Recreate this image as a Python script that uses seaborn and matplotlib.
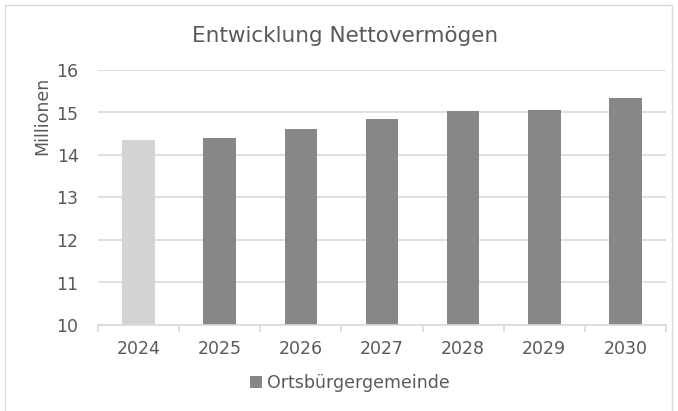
import numpy as np
import pandas as pd
import matplotlib
matplotlib.use("Agg")
import matplotlib.pyplot as plt
import seaborn as sns
from matplotlib.patches import Patch, Rectangle

# data
years = ["2024", "2025", "2026", "2027", "2028", "2029", "2030"]
values = [14.35, 14.39, 14.61, 14.84, 15.04, 15.05, 15.33]
bar_colors = ["#d4d4d4", "#878787", "#878787", "#878787", "#878787", "#878787", "#878787"]
series_name = "Ortsbürgergemeinde"

df = pd.DataFrame({"year": years, "value": values})

sns.set_theme(style="white")
plt.rcParams["font.family"] = ["DejaVu Sans"]
text_col = "#595959"

fig = plt.figure(figsize=(6.78, 4.11), dpi=100)
ax = fig.add_axes([98 / 678, 86 / 411, 568 / 678, 255 / 411])

sns.barplot(data=df, x="year", y="value", hue="year", palette=bar_colors,
            legend=False, width=0.4, ax=ax, edgecolor="none")

ax.set_ylim(10, 16)
ax.set_yticks(np.arange(10, 17, 1))
ax.yaxis.grid(True, color="#d9d9d9", linewidth=1.2)
ax.set_axisbelow(True)
for s in ["top", "right", "left"]:
    ax.spines[s].set_visible(False)
ax.spines["bottom"].set_color("#d9d9d9")
ax.spines["bottom"].set_linewidth(1.2)

ax.set_xlabel("")
ax.set_ylabel("")
ax.tick_params(axis="both", colors=text_col, labelsize=12.5, length=0)
ax.tick_params(axis="y", pad=14)
ax.tick_params(axis="x", pad=11)

# minor ticks between categories
ax.set_xticks(np.arange(-0.5, len(years), 1), minor=True)
ax.tick_params(axis="x", which="minor", bottom=True, length=5,
               color="#d9d9d9", width=1.2)

fig.text(42 / 678, 1 - 116 / 411, "Millionen", rotation=90, ha="center",
         va="center", fontsize=12.5, color=text_col)

fig.text(345 / 678, 1 - 36 / 411, "Entwicklung Nettovermögen", ha="center",
         va="center", fontsize=15.5, color=text_col)

handles = [Patch(facecolor="#878787", edgecolor="none", label=series_name)]
fig.legend(handles=handles, loc="center", bbox_to_anchor=(350 / 678, 1 - 383 / 411),
           frameon=False, fontsize=12.5, labelcolor=text_col, handlelength=0.7,
           handleheight=0.7, handletextpad=0.3)

fig.patches.append(Rectangle((5 / 678, -0.01), 667 / 678, 1 - 5 / 411 + 0.01,
                             transform=fig.transFigure, fill=False,
                             edgecolor="#d9d9d9", linewidth=1))

fig.savefig("out.png", dpi=100)
